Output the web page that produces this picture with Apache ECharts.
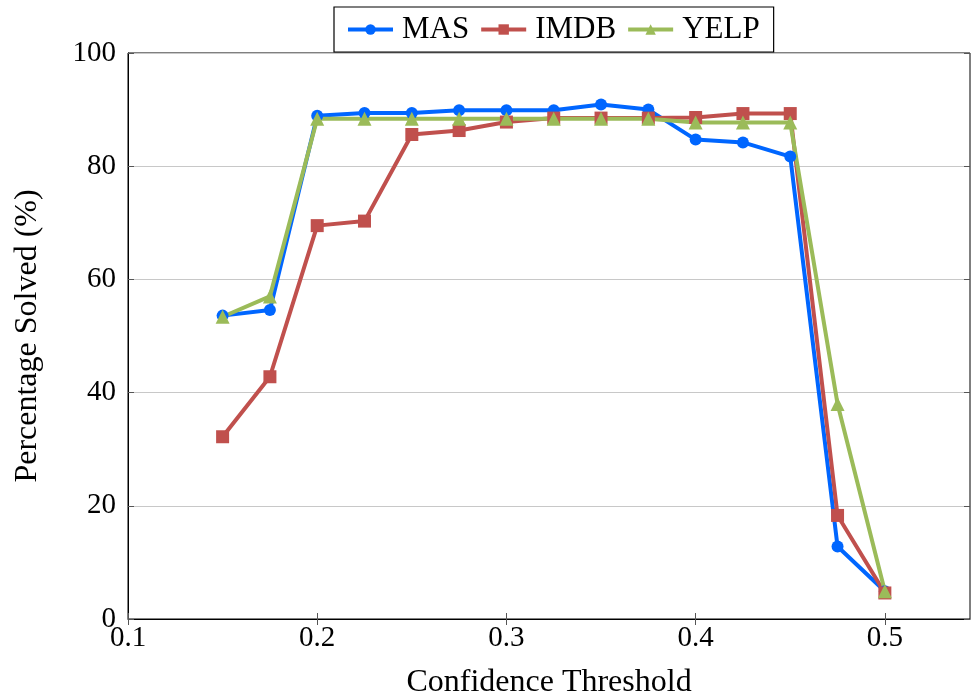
<!DOCTYPE html>
<html>
<head>
<meta charset="utf-8">
<script src="https://cdn.jsdelivr.net/npm/echarts@6/dist/echarts.min.js"></script>
<style>
  html, body { margin: 0; padding: 0; background: #fff; }
  #chart { width: 971px; height: 698px; }
</style>
</head>
<body>
<div id="chart"></div>
<script>
// data
const thresholds = [0.15, 0.175, 0.2, 0.225, 0.25, 0.275, 0.3, 0.325, 0.35, 0.375, 0.4, 0.425, 0.45, 0.475, 0.5]
const mas  = [53.6, 54.6, 88.9, 89.4, 89.4, 89.9, 89.9, 89.9, 90.9, 90.0, 84.7, 84.2, 81.7, 12.8, 4.9]
const imdb = [32.2, 42.8, 69.5, 70.3, 85.6, 86.3, 87.8, 88.5, 88.5, 88.5, 88.6, 89.3, 89.3, 18.3, 4.6]
const yelp = [53.4, 57.0, 88.4, 88.4, 88.4, 88.4, 88.4, 88.4, 88.4, 88.4, 87.7, 87.7, 87.7, 38.0, 4.9]
const xTicks = [0.1, 0.2, 0.3, 0.4, 0.5]

const font = '"Liberation Serif", "DejaVu Serif", serif'

function pairs(ys) {
    return thresholds.map((x, i) => [x, ys[i]])
}

function lineSeries(name, ys, color, symbol, size) {
    return {
        name: name,
        type: 'line',
        data: pairs(ys),
        symbol: symbol,
        symbolSize: size,
        lineStyle: { width: 4, color: color },
        itemStyle: { color: color },
        emphasis: { disabled: true },
        animation: false
    }
}

let chart = echarts.init(document.getElementById('chart'))
let option = {
    backgroundColor: '#fff',
    textStyle: { fontFamily: font },
    legend: {
        left: 334,
        top: 7,
        itemWidth: 45,
        itemHeight: 13,
        itemGap: 10,
        padding: [7, 14, 7, 12],
        borderColor: '#000',
        borderWidth: 1.2,
        backgroundColor: '#fff',
        z: 10,
        lineStyle: { width: 4 },
        textStyle: { fontFamily: font, fontSize: 31, color: '#000', padding: [0, 0, 0, 4] },
        data: ['MAS', 'IMDB', 'YELP']
    },
    grid: {
        left: 128, right: 1, top: 53, bottom: 79,
        outerBoundsMode: 'none',
        show: true, borderColor: '#000', borderWidth: 1
    },
    xAxis: [{
        type: 'value',
        min: 0.1,
        max: 0.545,
        interval: 0.1,
        name: 'Confidence Threshold',
        nameLocation: 'middle',
        nameGap: 48,
        nameTextStyle: { fontFamily: font, fontSize: 32, color: '#000' },
        axisLine: { onZero: false, lineStyle: { color: '#000', width: 1 } },
        axisTick: { inside: true, length: 6, customValues: xTicks, lineStyle: { color: '#555' } },
        axisLabel: { customValues: xTicks, fontFamily: font, fontSize: 29, color: '#000', margin: 5,
            formatter: v => String(v) },
        splitLine: { show: false }
    }, {
        type: 'value',
        position: 'top',
        min: 0.1,
        max: 0.545,
        interval: 0.1,
        axisLine: { show: false },
        axisTick: { inside: true, length: 6, customValues: xTicks, lineStyle: { color: '#555' } },
        axisLabel: { show: false },
        splitLine: { show: false }
    }],
    yAxis: [{
        type: 'value',
        min: 0,
        max: 100,
        interval: 20,
        name: 'Percentage Solved (%)',
        nameLocation: 'middle',
        nameGap: 84,
        nameTextStyle: { fontFamily: font, fontSize: 32, color: '#000' },
        axisLine: { show: true, lineStyle: { color: '#000', width: 1 } },
        axisTick: { inside: true, length: 6, lineStyle: { color: '#555' } },
        axisLabel: { fontFamily: font, fontSize: 29, color: '#000', margin: 12 },
        splitLine: { show: true, lineStyle: { color: '#c8c8c8', width: 1 } }
    }, {
        type: 'value',
        position: 'right',
        min: 0,
        max: 100,
        interval: 20,
        axisLine: { show: false },
        axisTick: { inside: true, length: 6, lineStyle: { color: '#555' } },
        axisLabel: { show: false },
        splitLine: { show: false }
    }],
    series: [
        lineSeries('MAS', mas, '#0066ff', 'circle', 12),
        lineSeries('IMDB', imdb, '#c0504d', 'rect', 13),
        lineSeries('YELP', yelp, '#9bbb59', 'triangle', 14)
    ]
}
chart.setOption(option)
window.addEventListener('resize', () => {
    chart.resize()
})
</script>
</body>
</html>
